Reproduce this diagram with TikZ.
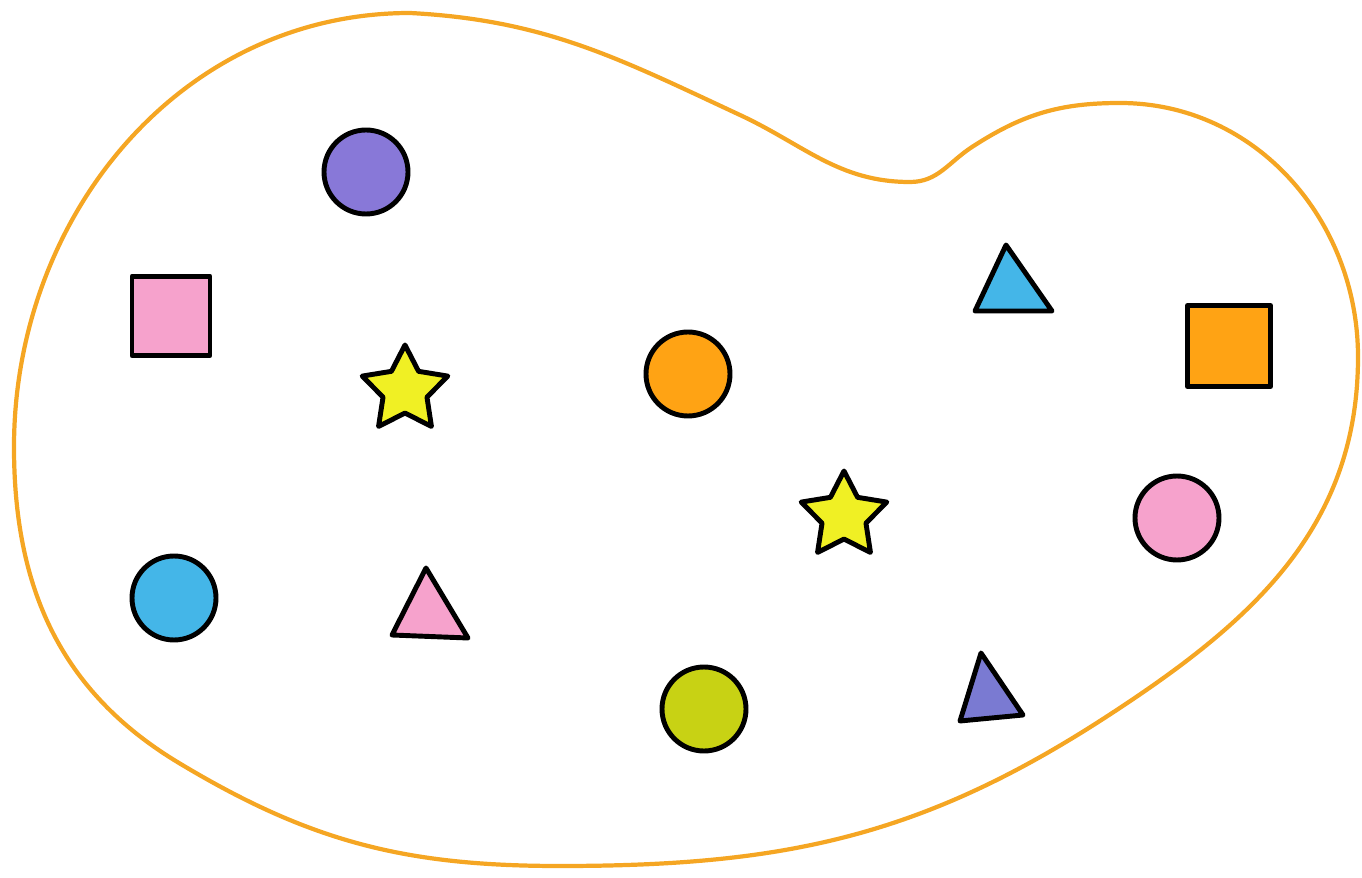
\documentclass[tikz,border=0pt]{standalone}
\usepackage{tikz}
\usetikzlibrary{shapes.geometric}
\definecolor{blobline}{HTML}{F5A623}
\definecolor{violet1}{HTML}{8878D8}
\definecolor{violet2}{HTML}{7A7AD2}
\definecolor{pinkish}{HTML}{F6A2CC}
\definecolor{sunny}{HTML}{F0F024}
\definecolor{tangerine}{HTML}{FFA314}
\definecolor{skyblue}{HTML}{44B6E8}
\definecolor{lime}{HTML}{C8D214}

\begin{document}
\begin{tikzpicture}[
    piece/.style={draw=black, line width=1.4pt, line join=round},
    dot/.style={piece, circle, minimum size=0.84cm, inner sep=0pt},
    tile/.style={piece, rectangle, inner sep=0pt},
    starry/.style={piece, star, star points=5, star point ratio=1.95,
                   minimum size=0.9cm, inner sep=0pt, fill=sunny},
    blob/.style={draw=blobline, line width=1.2pt}]
    \useasboundingbox (0,0) rectangle (13.62,8.77);

    % the set
    \draw[blob] (4.10,8.64) to[out=-3, in=155] (7.40,7.62)
        to[out=-25, in=180] (9.10,6.95)
        to[out=0, in=213] (9.72,7.30)
        to[out=33, in=180] (11.20,7.74)
        to[out=0, in=90] (13.58,5.20)
        to[out=-90, in=33] (11.06,1.60)
        to[out=-147, in=0] (5.60,0.11)
        to[out=180, in=-31] (1.79,1.14)
        to[out=149, in=-90] (0.14,4.30)
        to[out=90, in=180] (4.10,8.64) -- cycle;

    % circles
    \node[dot, fill=violet1] (cviolet) at (3.66,7.05) {};
    \node[dot, fill=tangerine] (corange) at (6.88,5.03) {};
    \node[dot, fill=pinkish] (cpink) at (11.77,3.59) {};
    \node[dot, fill=skyblue] (cblue) at (1.74,2.79) {};
    \node[dot, fill=lime] (clime) at (7.04,1.68) {};

    % squares
    \node[tile, fill=pinkish, minimum width=0.78cm, minimum height=0.79cm] (spink) at (1.71,5.61) {};
    \node[tile, fill=tangerine, minimum width=0.83cm, minimum height=0.81cm] (sorange) at (12.29,5.31) {};

    % stars
    \node[starry] (staro) at (4.05,4.87) {};
    \node[starry] (startw) at (8.44,3.61) {};

    % triangles
    \draw[piece, fill=skyblue] (10.06,6.32) -- (9.75,5.66) -- (10.52,5.66) -- cycle;
    \draw[piece, fill=pinkish] (4.26,3.09) -- (3.92,2.42) -- (4.68,2.39) -- cycle;
    \draw[piece, fill=violet2] (9.81,2.24) -- (9.60,1.56) -- (10.23,1.62) -- cycle;
\end{tikzpicture}
\end{document}
